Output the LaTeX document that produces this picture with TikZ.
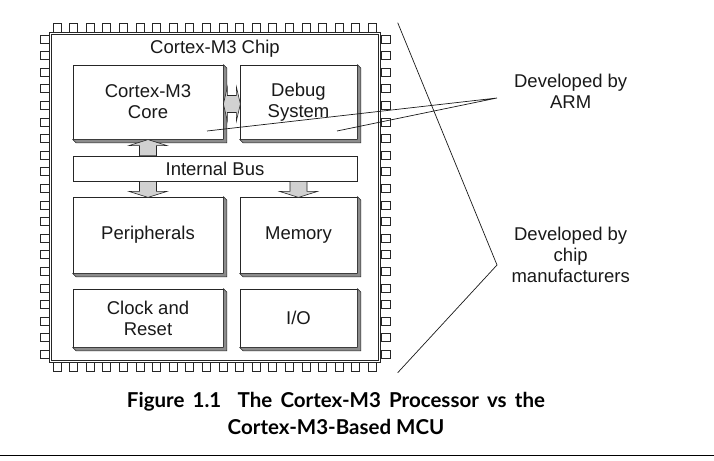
\documentclass[tikz,border=0pt]{standalone}
\usepackage{fontspec}
\setmainfont{Liberation Sans}
\newfontfamily\capfont{Lato}
\usetikzlibrary{positioning}

\newcommand{\blockfont}{\fontsize{18.5}{21}\selectfont}

\tikzset{
    block/.style = {draw=black!85, fill=white, line width=0.8pt, inner sep=0pt, align=center, font=\blockfont, text=black!90},
    extrude/.style = {draw=black!85, fill=black!45, line width=0.6pt, line join=round},
    fatarrow/.style = {draw=black!85, fill=black!18, line width=0.6pt},
    chippin/.style = {draw=black!85, fill=white, line width=0.7pt},
    callout/.style = {draw=black!90, line width=0.7pt},
    remark/.style = {align=center, font=\blockfont, text=black!90}
}

\begin{document}
\begin{tikzpicture}[x=1pt, y=-1pt]
    \useasboundingbox (0,0) rectangle (714,460);

    % pins
    \foreach \i in {0,...,19} {
        \draw[chippin] (53+16.6*\i, 23.5) rectangle ++(8,9);
        \draw[chippin] (53+16.6*\i, 362.5) rectangle ++(8,9);
        \draw[chippin] (40, 35+16.6*\i) rectangle ++(9,8);
        \draw[chippin] (381, 35+16.6*\i) rectangle ++(9,8);
    }

    % chip body
    \node[draw=black!85, fill=white, line width=0.8pt, double, double distance=1.6pt,
          minimum width=329pt, minimum height=328pt] (chip) at (215,197.5) {};
    \node[remark] (chiptitle) at (215,49) {Cortex-M3 Chip};

    % blocks
    \node[block, minimum width=150pt, minimum height=74pt] (core) at (148,102) {Cortex-M3\\Core};
    \node[block, minimum width=117pt, minimum height=74pt] (debug) at (298.5,102) {Debug\\System};
    \node[block, minimum width=284pt, minimum height=25pt] (bus) at (215,168.5) {Internal Bus};
    \node[block, minimum width=150pt, minimum height=76pt] (periph) at (148,235) {Peripherals};
    \node[block, minimum width=117pt, minimum height=76pt] (memory) at (298.5,235) {Memory};
    \node[block, minimum width=150pt, minimum height=58pt] (clock) at (148,318) {Clock and\\Reset};
    \node[block, minimum width=117pt, minimum height=58pt] (io) at (298.5,318) {I/O};

    \foreach \b in {core,debug,periph,memory,clock,io}
        \draw[extrude] (\b.north east) -- ++(3.5,3.5) -- ([shift={(3.5,3.5)}]\b.south east)
            -- ([shift={(3.5,3.5)}]\b.south west) -- (\b.south west) -- (\b.south east) -- cycle;

    % fat arrows
    \draw[fatarrow, shift={(core.east)}] (0,2) -- (4,-15) -- (4,-6.5) -- (13,-6.5) -- (13,-15)
        -- (17,2) -- (13,19) -- (13,10.5) -- (4,10.5) -- (4,19) -- cycle;
    \draw[fatarrow, shift={(core.south |- bus.north)}] (-8.5,0) -- (-8.5,-10) -- (-19,-10)
        -- (0,-16) -- (19,-10) -- (8.5,-10) -- (8.5,0) -- cycle;
    \foreach \b in {periph,memory}
        \draw[fatarrow, shift={(\b.north |- bus.south)}] (-8.5,0) -- (-8.5,10) -- (-19,10)
            -- (0,16) -- (19,10) -- (8.5,10) -- (8.5,0) -- cycle;

    % who develops what
    \node[remark] (arm) at (570.7,91.7) {Developed by\\ARM};
    \node[remark] (maker) at (570.7,254.5) {Developed by\\chip\\manufacturers};
    \coordinate (armpt) at (497,98);
    \coordinate (corept) at (207,131);
    \coordinate (debugpt) at (337,131);
    \coordinate (brtop) at (397.7,22.7);
    \coordinate (brtip) at (497,265);
    \coordinate (brbot) at (397.7,372.7);
    \draw[callout] (corept) -- (armpt) -- (debugpt);
    \draw[callout] (brtop) -- (brtip) -- (brbot);

    % caption
    \node[align=center, font=\capfont\bfseries\fontsize{20.5}{27}\selectfont] (caption) at (336,413.5)
        {\spaceskip=0.4em Figure 1.1\hspace{0.8em}The Cortex-M3 Processor vs the\\Cortex-M3-Based MCU};
    \draw[line width=1.5pt] (0,455.7) -- (714,455.7);
\end{tikzpicture}
\end{document}
